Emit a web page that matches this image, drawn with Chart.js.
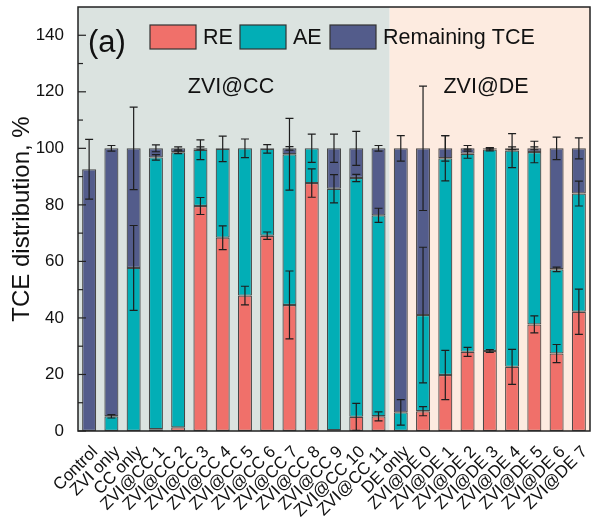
<!DOCTYPE html>
<html>
<head>
<meta charset="utf-8">
<script src="https://cdn.jsdelivr.net/npm/chart.js@4"></script>
<style>
  body { margin: 0; background: #fff; }
  canvas { display: block; }
</style>
</head>
<body>
<canvas id="myChart" width="596" height="517"></canvas>
<script>
// categories along the x axis
const categories = ['Control', 'ZVI only', 'CC only',
  'ZVI@CC 1', 'ZVI@CC 2', 'ZVI@CC 3', 'ZVI@CC 4', 'ZVI@CC 5', 'ZVI@CC 6',
  'ZVI@CC 7', 'ZVI@CC 8', 'ZVI@CC 9', 'ZVI@CC 10', 'ZVI@CC 11',
  'DE only', 'ZVI@DE 0', 'ZVI@DE 1', 'ZVI@DE 2', 'ZVI@DE 3',
  'ZVI@DE 4', 'ZVI@DE 5', 'ZVI@DE 6', 'ZVI@DE 7'];

// stacked segment values (%)
const reValues  = [0, 0, 0, 0.6, 1.3, 79.6, 68.4, 47.9, 69.1, 44.6, 87.7, 0.3, 5.0, 5.2,
                   0, 7.0, 19.8, 28.0, 28.3, 22.7, 37.7, 27.4, 42.2];
const aeValues  = [0, 5.2, 57.7, 96.2, 97.3, 19.9, 31.4, 52.1, 30.7, 53.3, 12.3, 85.4, 84.5, 71.1,
                   6.6, 34.0, 76.7, 70.1, 71.3, 76.5, 61.0, 29.8, 41.8];
const remValues = [92.6, 94.8, 42.3, 3.2, 1.4, 0.5, 0.2, 0, 0.2, 2.1, 0, 14.3, 10.5, 23.7,
                   93.4, 59.0, 3.5, 1.9, 0.4, 0.8, 1.3, 42.8, 16.0];

// error bars (+/-) at the top of each segment
const reErr  = [0, 0, 0, 0, 0, 3.0, 4.2, 3.3, 1.3, 12.0, 5.0, 0, 4.8, 1.6,
                0, 1.6, 8.7, 1.6, 0.5, 6.2, 3.0, 3.2, 8.0];
const aeErr  = [0, 0.6, 15.0, 1.0, 0.5, 3.5, 4.5, 3.3, 1.5, 12.7, 5.0, 5.0, 1.3, 2.5,
                4.5, 24.0, 8.0, 1.6, 0.5, 6.0, 3.8, 0.8, 4.4];
const remErr = [10.6, 1.0, 14.6, 1.2, 0.5, 0.5, 0, 0, 0, 0.6, 0, 5.0, 6.0, 1.0,
                4.5, 22.0, 4.5, 1.0, 0.3, 0.5, 0.5, 4.0, 3.7];

const yTicks = [0, 20, 40, 60, 80, 100, 120, 140];

const seriesLabels = ['RE', 'AE', 'Remaining TCE'];
const seriesColors = ['#f0706a', '#02aeb6', '#535c8b'];
const groupLabels = ['ZVI@CC', 'ZVI@DE'];
const groupSplit = 14; // first ZVI@DE-group index (DE only)

const FONT = '"Liberation Sans", Arial, sans-serif';

// shaded backgrounds for the two groups
const groupBackground = {
  id: 'groupBackground',
  beforeDatasetsDraw(chart) {
    const { ctx, chartArea: a, scales: { x } } = chart;
    const split = (x.getPixelForValue(groupSplit - 1) + x.getPixelForValue(groupSplit)) / 2;
    ctx.save();
    ctx.fillStyle = '#dbe3e0';
    ctx.fillRect(a.left, a.top, split - a.left, a.bottom - a.top);
    ctx.fillStyle = '#fdebe0';
    ctx.fillRect(split, a.top, a.right - split, a.bottom - a.top);
    ctx.restore();
  }
};

// error bars at each cumulative segment top
const errorBars = {
  id: 'errorBars',
  afterDatasetsDraw(chart) {
    const { ctx, scales: { x, y } } = chart;
    const segs = [reValues, aeValues, remValues];
    const errs = [reErr, aeErr, remErr];
    ctx.save();
    ctx.strokeStyle = '#1e1e1e';
    ctx.lineWidth = 1.2;
    categories.forEach((c, i) => {
      let top = 0;
      for (let d = 0; d < 3; d++) {
        top += segs[d][i];
        const e = errs[d][i];
        if (!e) continue;
        const px = x.getPixelForValue(i);
        const y1 = y.getPixelForValue(top + e);
        const y2 = y.getPixelForValue(top - e);
        ctx.beginPath();
        ctx.moveTo(px, y1); ctx.lineTo(px, y2);
        ctx.moveTo(px - 4, y1); ctx.lineTo(px + 4, y1);
        ctx.moveTo(px - 4, y2); ctx.lineTo(px + 4, y2);
        ctx.stroke();
      }
    });
    ctx.restore();
  }
};

// frame, inward ticks, legend and annotations
const decorations = {
  id: 'decorations',
  afterDraw(chart) {
    const { ctx, chartArea: a, scales: { y } } = chart;
    ctx.save();
    ctx.strokeStyle = '#222';
    ctx.lineWidth = 1.5;
    ctx.strokeRect(a.left, a.top, a.right - a.left, a.bottom - a.top);
    ctx.lineWidth = 1.2;
    for (let v = 0; v <= 140; v += 10) {
      const py = y.getPixelForValue(v);
      const len = v % 20 === 0 ? 8 : 5;
      ctx.beginPath();
      ctx.moveTo(a.left, py); ctx.lineTo(a.left + len, py);
      ctx.stroke();
    }

    ctx.fillStyle = '#111';
    ctx.textBaseline = 'middle';
    ctx.font = '31px ' + FONT;
    ctx.textAlign = 'left';
    ctx.fillText('(a)', 88, 43);

    // legend
    const items = [[150, 203], [240, 293], [330, 383]];
    ctx.font = '21.5px ' + FONT;
    items.forEach(([bx, tx], k) => {
      ctx.fillStyle = seriesColors[k];
      ctx.fillRect(bx, 25, 46, 24);
      ctx.strokeStyle = '#333';
      ctx.lineWidth = 1.2;
      ctx.strokeRect(bx, 25, 46, 24);
      ctx.fillStyle = '#111';
      ctx.fillText(seriesLabels[k], tx, 38);
    });

    // group labels
    ctx.textAlign = 'center';
    ctx.fillText(groupLabels[0], 231, 87);
    ctx.fillText(groupLabels[1], 486, 87);
    ctx.restore();
  }
};

const makeSet = (k, data) => ({
  label: seriesLabels[k],
  data: data,
  backgroundColor: seriesColors[k],
  borderColor: 'rgba(45,45,45,0.85)',
  borderWidth: 1.2,
  borderSkipped: false,
  barPercentage: 0.63,
  categoryPercentage: 1.0
});

new Chart(document.getElementById('myChart'), {
  type: 'bar',
  data: {
    labels: categories,
    datasets: [makeSet(0, reValues), makeSet(1, aeValues), makeSet(2, remValues)]
  },
  options: {
    responsive: false,
    animation: false,
    layout: { padding: { top: 7, right: 6, left: 0, bottom: 0 } },
    plugins: { legend: { display: false }, tooltip: { enabled: false } },
    scales: {
      x: {
        stacked: true,
        grid: { display: false },
        border: { display: false },
        ticks: {
          color: '#111',
          font: { family: FONT, size: 17 },
          minRotation: 45,
          maxRotation: 45,
          autoSkip: false,
          padding: 3,
          labelOffset: 6
        },
        afterFit(scale) { scale.height = 86; scale.paddingRight = 0; }
      },
      y: {
        stacked: true,
        min: 0,
        max: 150,
        grid: { display: false },
        border: { display: false },
        afterBuildTicks(scale) {
          scale.ticks = yTicks.map(v => ({ value: v }));
        },
        ticks: {
          color: '#111',
          font: { family: FONT, size: 17 },
          padding: 6
        },
        title: {
          display: true,
          text: 'TCE distribution, %',
          color: '#111',
          font: { family: FONT, size: 24 },
          padding: { top: 8, bottom: 0 }
        },
        afterFit(scale) { scale.width = 78; scale.paddingTop = 0; }
      }
    }
  },
  plugins: [groupBackground, errorBars, decorations]
});
</script>
</body>
</html>
